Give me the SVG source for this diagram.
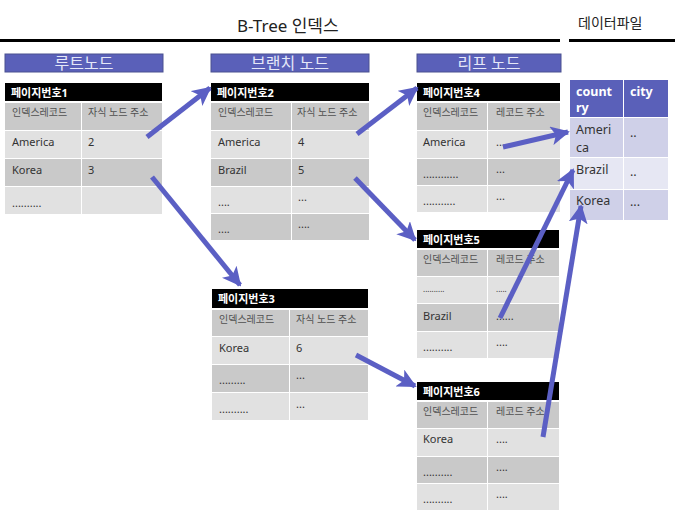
<svg xmlns="http://www.w3.org/2000/svg" width="675" height="523" viewBox="0 0 675 523">
<style>
text{font-family:"Noto Sans","Noto Sans CJK KR",sans-serif}
.ttl{font-size:17px;fill:#222}
.sec{fill:#5a60b9;stroke:#4a5190;stroke-width:1}
.secT{font-size:16px;fill:#e4e7f8;text-anchor:middle}
.pg{fill:#000}
.pgT{font-size:11px;font-weight:bold;fill:#fff}
.d{fill:#c9c9c9}
.l{fill:#e1e1e1}
.hT{font-size:10px;fill:#505050}
.cT{font-size:11px;fill:#333}
.dh{fill:#5a60b9}
.dA{fill:#cfd0e8}
.dB{fill:#e6e7f3}
.dhT{font-size:12.5px;font-weight:bold;fill:#fff}
.dT{font-size:12.5px;fill:#333}
.conn line{stroke:#5b5fc4;stroke-width:5;marker-end:url(#ah)}
</style>
<defs>
<marker id="ah" viewBox="0 0 10 10" refX="9" refY="5" markerWidth="3.8" markerHeight="3.8" orient="auto" markerUnits="strokeWidth">
<path d="M0,0 L10,5 L0,10 L2.5,5 z" fill="#5b5fc4"/>
</marker>
</defs>
<rect width="675" height="523" fill="#fff"/>
<g id="title">
<text class="ttl" x="237" y="32">B-Tree 인덱스</text>
<text x="578" y="28" style="font-size:14px;fill:#222">데이터파일</text>
<rect x="0" y="39" width="560" height="3" fill="#000"/>
<rect x="569" y="39" width="106" height="3" fill="#000"/>
</g>
<g id="sec-root"><rect class="sec" x="5" y="54" width="158" height="18"/><text class="secT" x="84" y="69">루트노드</text></g>
<g id="sec-branch"><rect class="sec" x="211" y="54" width="158" height="18"/><text class="secT" x="290" y="69">브랜치 노드</text></g>
<g id="sec-leaf"><rect class="sec" x="417" y="54" width="144" height="18"/><text class="secT" x="489" y="69">리프 노드</text></g>

<g id="page1">
<rect class="pg" x="5" y="83" width="157" height="18"/><text class="pgT" x="11" y="97">페이지번호1</text>
<rect class="d" x="5" y="103" width="76" height="27"/><rect class="d" x="82" y="103" width="80" height="27"/>
<rect class="l" x="5" y="131" width="76" height="27"/><rect class="l" x="82" y="131" width="80" height="27"/>
<rect class="d" x="5" y="159" width="76" height="27"/><rect class="d" x="82" y="159" width="80" height="27"/>
<rect class="l" x="5" y="187" width="76" height="27"/><rect class="l" x="82" y="187" width="80" height="27"/>
<text class="hT" x="12" y="116">인덱스레코드</text><text class="hT" x="88" y="116">자식 노드 주소</text>
<text class="cT" x="12" y="146">America</text><text class="cT" x="88" y="146">2</text>
<text class="cT" x="12" y="174">Korea</text><text class="cT" x="88" y="174">3</text>
<text class="cT" x="12" y="207">..........</text>
</g>

<g id="page2">
<rect class="pg" x="211" y="83" width="158" height="18"/><text class="pgT" x="217" y="97">페이지번호2</text>
<rect class="d" x="211" y="103" width="80" height="27"/><rect class="d" x="292" y="103" width="77" height="27"/>
<rect class="l" x="211" y="131" width="80" height="27"/><rect class="l" x="292" y="131" width="77" height="27"/>
<rect class="d" x="211" y="159" width="80" height="27"/><rect class="d" x="292" y="159" width="77" height="27"/>
<rect class="l" x="211" y="187" width="80" height="26"/><rect class="l" x="292" y="187" width="77" height="26"/>
<rect class="d" x="211" y="214" width="80" height="26"/><rect class="d" x="292" y="214" width="77" height="26"/>
<text class="hT" x="218" y="116">인덱스레코드</text><text class="hT" x="297" y="116">자식 노드 주소</text>
<text class="cT" x="218" y="146">America</text><text class="cT" x="298" y="146">4</text>
<text class="cT" x="218" y="174">Brazil</text><text class="cT" x="298" y="174">5</text>
<text class="cT" x="218" y="206">....</text><text class="cT" x="298" y="201">...</text>
<text class="cT" x="218" y="233">....</text><text class="cT" x="298" y="228">....</text>
</g>

<g id="page3">
<rect class="pg" x="212" y="289" width="156" height="19"/><text class="pgT" x="218" y="303">페이지번호3</text>
<rect class="d" x="212" y="310" width="77" height="26"/><rect class="d" x="290" y="310" width="78" height="26"/>
<rect class="l" x="212" y="337" width="77" height="27"/><rect class="l" x="290" y="337" width="78" height="27"/>
<rect class="d" x="212" y="365" width="77" height="27"/><rect class="d" x="290" y="365" width="78" height="27"/>
<rect class="l" x="212" y="393" width="77" height="27"/><rect class="l" x="290" y="393" width="78" height="27"/>
<text class="hT" x="219" y="323">인덱스레코드</text><text class="hT" x="296" y="323">자식 노드 주소</text>
<text class="cT" x="219" y="352">Korea</text><text class="cT" x="296" y="352">6</text>
<text class="cT" x="219" y="384">.........</text><text class="cT" x="296" y="379">...</text>
<text class="cT" x="219" y="413">..........</text><text class="cT" x="296" y="408">...</text>
</g>

<g id="page4">
<rect class="pg" x="417" y="83" width="143" height="18"/><text class="pgT" x="423" y="97">페이지번호4</text>
<rect class="d" x="417" y="103" width="70" height="27"/><rect class="d" x="488" y="103" width="72" height="27"/>
<rect class="l" x="417" y="131" width="70" height="27"/><rect class="l" x="488" y="131" width="72" height="27"/>
<rect class="d" x="417" y="159" width="70" height="26"/><rect class="d" x="488" y="159" width="72" height="26"/>
<rect class="l" x="417" y="186" width="70" height="26"/><rect class="l" x="488" y="186" width="72" height="26"/>
<text class="hT" x="423" y="116">인덱스레코드</text><text class="hT" x="496" y="116">레코드 주소</text>
<text class="cT" x="423" y="146">America</text><text class="cT" x="496" y="146">...</text>
<text class="cT" x="423" y="178">............</text><text class="cT" x="496" y="173">...</text>
<text class="cT" x="423" y="205">...........</text><text class="cT" x="496" y="200">...</text>
</g>

<g id="page5">
<rect class="pg" x="417" y="230" width="142" height="18"/><text class="pgT" x="423" y="244">페이지번호5</text>
<rect class="d" x="417" y="250" width="70" height="26"/><rect class="d" x="488" y="250" width="71" height="26"/>
<rect class="l" x="417" y="277" width="70" height="26"/><rect class="l" x="488" y="277" width="71" height="26"/>
<rect class="d" x="417" y="304" width="70" height="27"/><rect class="d" x="488" y="304" width="71" height="27"/>
<rect class="l" x="417" y="332" width="70" height="26"/><rect class="l" x="488" y="332" width="71" height="26"/>
<text class="hT" x="423" y="263">인덱스레코드</text><text class="hT" x="496" y="263">레코드 주소</text>
<text class="cT" x="423" y="292" style="font-size:8px">..........</text><text class="cT" x="496" y="292" style="font-size:8px">.....</text>
<text class="cT" x="423" y="320">Brazil</text><text class="cT" x="496" y="320">......</text>
<text class="cT" x="423" y="351">..........</text><text class="cT" x="496" y="346">....</text>
</g>

<g id="page6">
<rect class="pg" x="417" y="382" width="142" height="18"/><text class="pgT" x="423" y="396">페이지번호6</text>
<rect class="d" x="417" y="402" width="70" height="26"/><rect class="d" x="488" y="402" width="71" height="26"/>
<rect class="l" x="417" y="429" width="70" height="27"/><rect class="l" x="488" y="429" width="71" height="27"/>
<rect class="d" x="417" y="457" width="70" height="26"/><rect class="d" x="488" y="457" width="71" height="26"/>
<rect class="l" x="417" y="484" width="70" height="26"/><rect class="l" x="488" y="484" width="71" height="26"/>
<text class="hT" x="423" y="415">인덱스레코드</text><text class="hT" x="496" y="415">레코드 주소</text>
<text class="cT" x="423" y="443">Korea</text><text class="cT" x="496" y="443">....</text>
<text class="cT" x="423" y="476">..........</text><text class="cT" x="496" y="471">....</text>
<text class="cT" x="423" y="503">..........</text><text class="cT" x="496" y="498">....</text>
</g>

<g id="datafile">
<rect class="dh" x="570" y="80" width="53" height="37"/><rect class="dh" x="624" y="80" width="44" height="37"/>
<rect class="dA" x="570" y="118" width="53" height="39"/><rect class="dA" x="624" y="118" width="44" height="39"/>
<rect class="dB" x="570" y="158" width="53" height="31"/><rect class="dB" x="624" y="158" width="44" height="31"/>
<rect class="dA" x="570" y="190" width="53" height="30"/><rect class="dA" x="624" y="190" width="44" height="30"/>
<text class="dhT" x="576" y="96">count</text><text class="dhT" x="576" y="112">ry</text><text class="dhT" x="630" y="96">city</text>
<text class="dT" x="576" y="134">Ameri</text><text class="dT" x="576" y="152">ca</text><text class="dT" x="630" y="137">..</text>
<text class="dT" x="576" y="174">Brazil</text><text class="dT" x="630" y="176">..</text>
<text class="dT" x="576" y="205">Korea</text><text class="dT" x="630" y="206">...</text>
</g>

<g id="connectors" class="conn">
<line x1="147" y1="137" x2="210" y2="88"/>
<line x1="152" y1="177" x2="240" y2="285"/>
<line x1="357" y1="134" x2="417" y2="88"/>
<line x1="355" y1="178" x2="415" y2="240"/>
<line x1="356" y1="355" x2="415" y2="386"/>
<line x1="503" y1="147" x2="568" y2="132"/>
<line x1="500" y1="318" x2="573" y2="170"/>
<line x1="543" y1="437" x2="581" y2="206"/>
</g>
</svg>
